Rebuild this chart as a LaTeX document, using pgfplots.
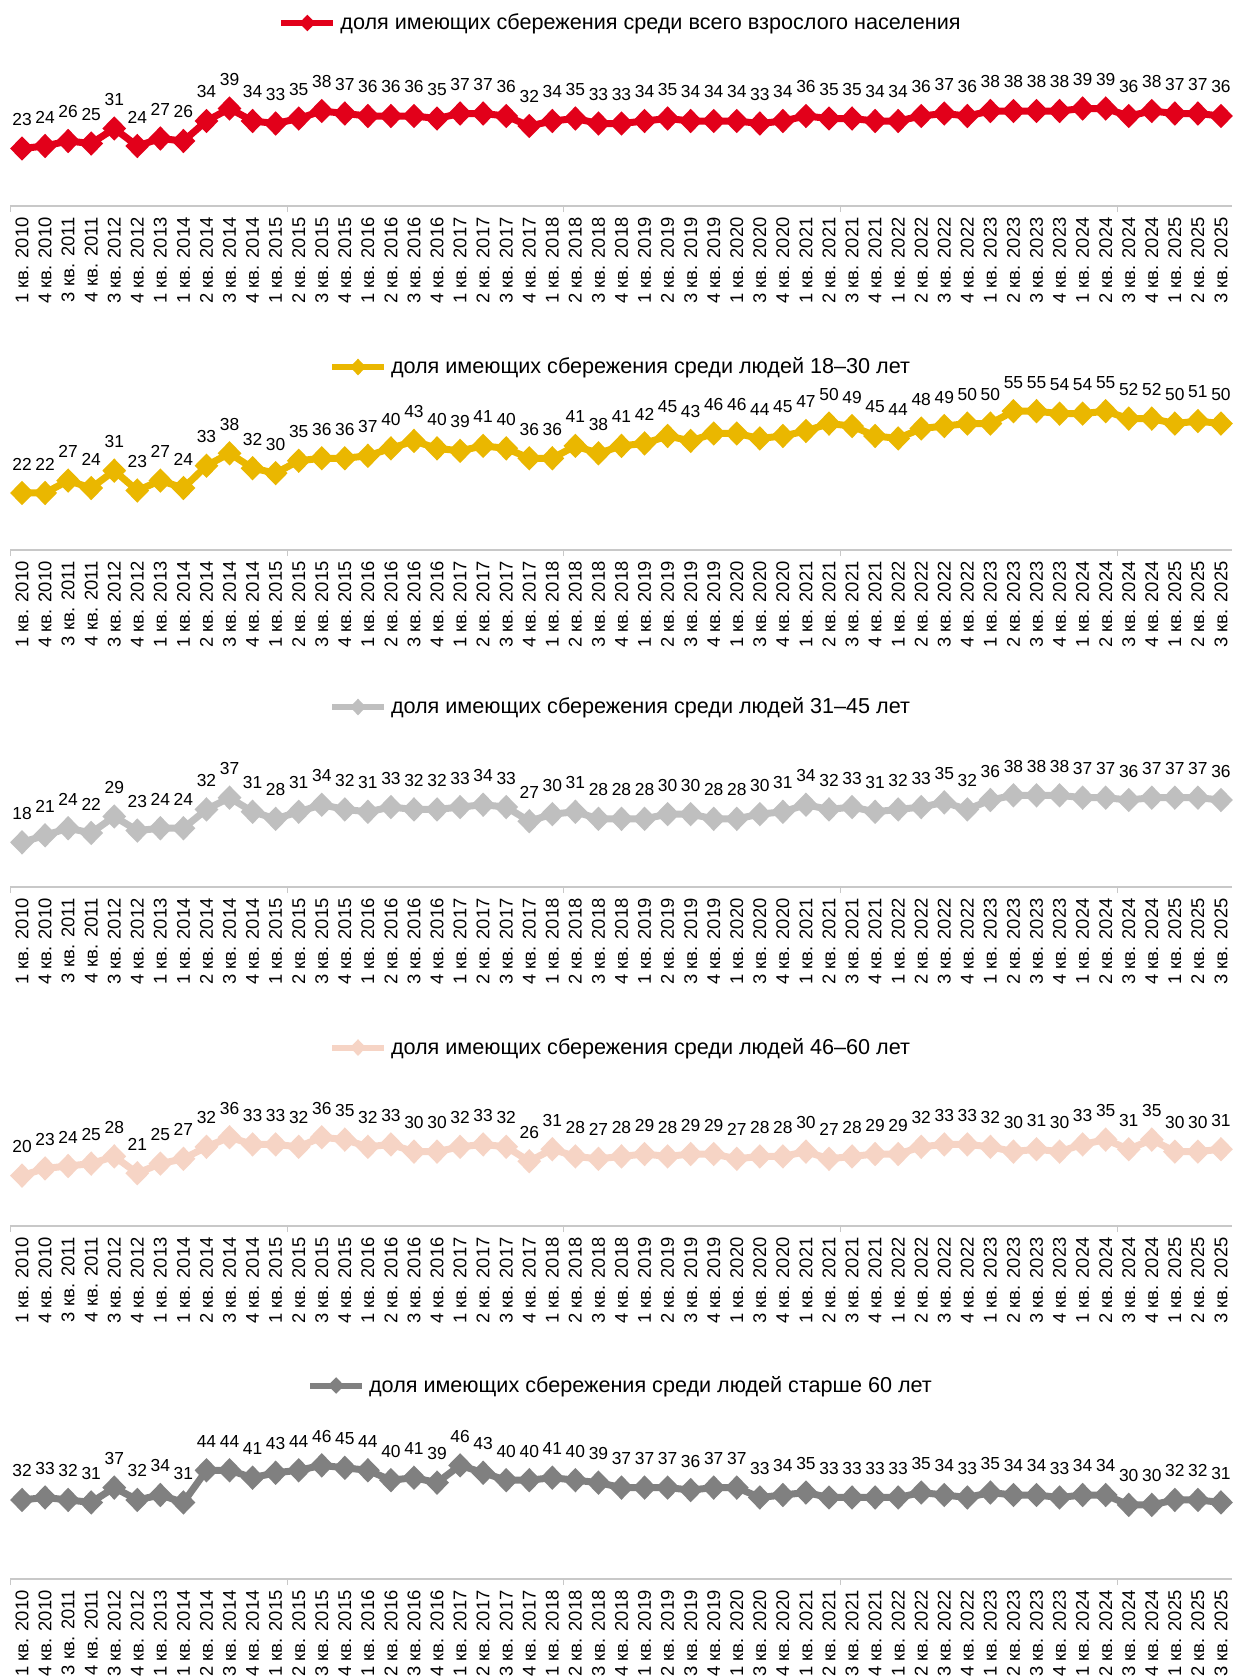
\documentclass[border=0pt]{standalone}
\usepackage{fontspec}
\setmainfont{Liberation Sans}
\usepackage{pgfplots}
\pgfplotsset{compat=1.18}
\usepackage{pgfplotstable}
\definecolor{cRed}{RGB}{226,0,26}
\definecolor{cGold}{RGB}{234,183,0}
\definecolor{cLGray}{RGB}{191,191,191}
\definecolor{cPeach}{RGB}{246,212,197}
\definecolor{cDGray}{RGB}{128,128,128}
\definecolor{axgray}{RGB}{200,200,200}

\pgfplotstableread{
x a b c d e
0 23 22 18 20 32
1 24 22 21 23 33
2 26 27 24 24 32
3 25 24 22 25 31
4 31 31 29 28 37
5 24 23 23 21 32
6 27 27 24 25 34
7 26 24 24 27 31
8 34 33 32 32 44
9 39 38 37 36 44
10 34 32 31 33 41
11 33 30 28 33 43
12 35 35 31 32 44
13 38 36 34 36 46
14 37 36 32 35 45
15 36 37 31 32 44
16 36 40 33 33 40
17 36 43 32 30 41
18 35 40 32 30 39
19 37 39 33 32 46
20 37 41 34 33 43
21 36 40 33 32 40
22 32 36 27 26 40
23 34 36 30 31 41
24 35 41 31 28 40
25 33 38 28 27 39
26 33 41 28 28 37
27 34 42 28 29 37
28 35 45 30 28 37
29 34 43 30 29 36
30 34 46 28 29 37
31 34 46 28 27 37
32 33 44 30 28 33
33 34 45 31 28 34
34 36 47 34 30 35
35 35 50 32 27 33
36 35 49 33 28 33
37 34 45 31 29 33
38 34 44 32 29 33
39 36 48 33 32 35
40 37 49 35 33 34
41 36 50 32 33 33
42 38 50 36 32 35
43 38 55 38 30 34
44 38 55 38 31 34
45 38 54 38 30 33
46 39 54 37 33 34
47 39 55 37 35 34
48 36 52 36 31 30
49 38 52 37 35 30
50 37 50 37 30 32
51 37 51 37 30 32
52 36 50 36 31 31
}\data

\pgfplotsset{panel/.style={
  scale only axis, width=611pt, height=75pt,
  xmin=-0.5, xmax=52.5,
  axis x line*=bottom, axis y line=none,
  axis line style={draw=axgray, line width=0.6pt, -},
  xtick={0,...,52},
  xticklabels={1 кв. 2010, 4 кв. 2010, 3 кв. 2011, 4 кв. 2011, 3 кв. 2012, 4 кв. 2012, 1 кв. 2013, 1 кв. 2014, 2 кв. 2014, 3 кв. 2014, 4 кв. 2014, 1 кв. 2015, 2 кв. 2015, 3 кв. 2015, 4 кв. 2015, 1 кв. 2016, 2 кв. 2016, 3 кв. 2016, 4 кв. 2016, 1 кв. 2017, 2 кв. 2017, 3 кв. 2017, 4 кв. 2017, 1 кв. 2018, 2 кв. 2018, 3 кв. 2018, 4 кв. 2018, 1 кв. 2019, 2 кв. 2019, 3 кв. 2019, 4 кв. 2019, 1 кв. 2020, 3 кв. 2020, 4 кв. 2020, 1 кв. 2021, 2 кв. 2021, 3 кв. 2021, 4 кв. 2021, 1 кв. 2022, 2 кв. 2022, 3 кв. 2022, 4 кв. 2022, 1 кв. 2023, 2 кв. 2023, 3 кв. 2023, 4 кв. 2023, 1 кв. 2024, 2 кв. 2024, 3 кв. 2024, 4 кв. 2024, 1 кв. 2025, 2 кв. 2025, 3 кв. 2025},
  xtick align=outside,
  major tick length=0pt,
  xticklabel style={rotate=90, anchor=east, font=\fontsize{9.2}{10}\selectfont, inner xsep=5.5pt, inner ysep=0pt},
  extra x ticks={-0.5,11.5,23.5,35.5,47.5},
  extra x tick labels={},
  extra x tick style={major tick length=3pt, tick style={draw=axgray, line width=0.6pt}},
  ytick=\empty,
  clip=false,
  nodes near coords,
  every node near coord/.append style={font=\fontsize{8.7}{10}\selectfont, anchor=center, yshift=14.5pt, text=black},
  /pgf/number format/assume math mode=true,
  legend style={draw=none, fill=none, font=\fontsize{10.8}{12}\selectfont, anchor=center, inner sep=0pt},
  legend image code/.code={\draw[##1, mark repeat=2, mark phase=2, line width=3pt, mark size=2pt] plot coordinates {(0pt,0pt)(13pt,0pt)(26pt,0pt)};},
},
ser/.style={color=#1, line width=3.5pt, mark=diamond*, mark size=3.6pt, mark options={solid, xscale=1.3}}
}

\begin{document}
\begin{tikzpicture}
\useasboundingbox (0,0) rectangle (616.5pt,-838.5pt);
\clip (0,0) rectangle (616.5pt,-838.5pt);

\begin{axis}[panel, at={(5.25pt,-103pt)}, anchor=south west, ymin=0, ymax=60,
  legend style={at={(0.5,1.22)}}]
\addplot[ser=cRed] table[x=x,y=a]{\data};
\addlegendentry{доля имеющих сбережения среди всего взрослого населения}
\end{axis}

\begin{axis}[panel, at={(5.25pt,-275pt)}, anchor=south west, ymin=-1, ymax=59.5,
  legend style={at={(0.5,1.22)}}]
\addplot[ser=cGold] table[x=x,y=b]{\data};
\addlegendentry{доля имеющих сбережения среди людей 18–30 лет}
\end{axis}

\begin{axis}[panel, at={(5.25pt,-443.5pt)}, anchor=south west, ymin=-1, ymax=62.8,
  legend style={at={(0.5,1.2)}}]
\addplot[ser=cLGray] table[x=x,y=c]{\data};
\addlegendentry{доля имеющих сбережения среди людей 31–45 лет}
\end{axis}

\begin{axis}[panel, at={(5.25pt,-613pt)}, anchor=south west, ymin=-1, ymax=61.5,
  legend style={at={(0.5,1.19)}}]
\addplot[ser=cPeach] table[x=x,y=d]{\data};
\addlegendentry{доля имеющих сбережения среди людей 46–60 лет}
\end{axis}

\begin{axis}[panel, at={(5.25pt,-789.5pt)}, anchor=south west, ymin=0, ymax=60.7,
  legend style={at={(0.5,1.29)}}]
\addplot[ser=cDGray] table[x=x,y=e]{\data};
\addlegendentry{доля имеющих сбережения среди людей старше 60 лет}
\end{axis}
\end{tikzpicture}
\end{document}
